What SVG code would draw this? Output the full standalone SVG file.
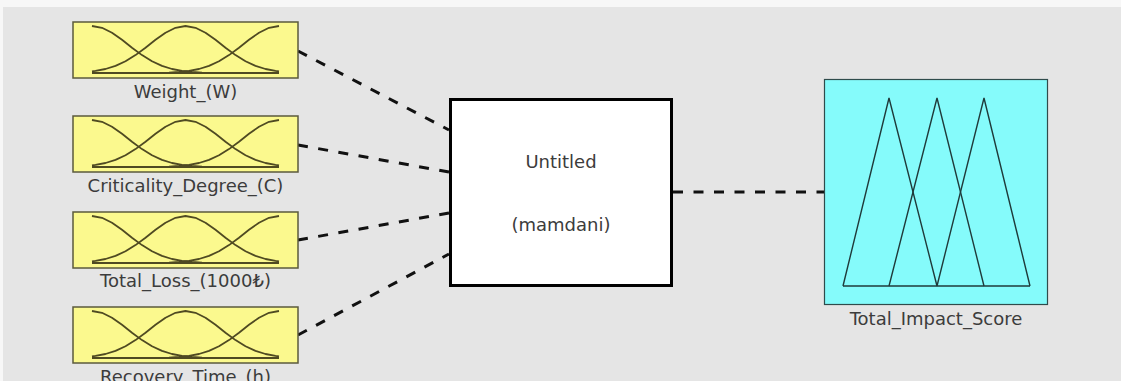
<svg xmlns="http://www.w3.org/2000/svg" width="1121" height="381" viewBox="0 0 1121 381">
<style>
.bg{fill:#e5e5e5}
.inbox{fill:#fbf98e;stroke:#5b5a3c;stroke-width:1.5}
.mf{fill:none;stroke:#4f4a22;stroke-width:1.8;stroke-linejoin:round}
.base{fill:none;stroke:#4f4a22;stroke-width:2.2}
.lbl{font-family:"DejaVu Sans",Verdana,sans-serif;font-size:18px;fill:#3c3c3c;text-anchor:middle}
.conn{fill:none;stroke:#111;stroke-width:3;stroke-dasharray:10 10.5}
.core{fill:#fff;stroke:#000;stroke-width:3}
.outbox{fill:#85fbfb;stroke:#2f4b4b;stroke-width:1.2}
.tri{fill:none;stroke:#1f3a3a;stroke-width:1.4;stroke-linejoin:miter}
</style>
<defs>
<g id="mfs">
<rect class="inbox" x="0" y="0" width="225" height="56"/>
<polyline class="mf" points="19,4 29,5.8 39,10.7 49,17.8 59,25.7 69,33.1 79,39.3 89,43.9 99,47 109,48.9 119,50 129,50.6 139,50.8 159,51 206,51"/>
<polyline class="mf" points="206,4 196,5.8 186,10.7 176,17.8 166,25.7 156,33.1 146,39.3 136,43.9 126,47 116,48.9 106,50 96,50.6 86,50.8 66,51 19,51"/>
<polyline class="mf" points="19,49.4 22.5,48.9 32.5,47 42.5,43.9 52.5,39.3 62.5,33.1 72.5,25.7 82.5,17.8 92.5,10.7 102.5,5.8 112.5,4 122.5,5.8 132.5,10.7 142.5,17.8 152.5,25.7 162.5,33.1 172.5,39.3 182.5,43.9 192.5,47 202.5,48.9 206,49.4"/>
<line class="base" x1="19" y1="51" x2="206" y2="51"/>
</g>
</defs>
<rect x="0" y="0" width="1121" height="381" fill="#f7f7f7"/>
<rect class="bg" x="3" y="7" width="1118" height="374"/>

<g id="connectors">
<line class="conn" x1="298" y1="51" x2="449" y2="130"/>
<line class="conn" x1="298" y1="145" x2="449" y2="172"/>
<line class="conn" x1="298" y1="240" x2="449" y2="213"/>
<line class="conn" x1="298" y1="335" x2="449" y2="254"/>
<line class="conn" x1="673" y1="192" x2="824" y2="192"/>
</g>

<g id="input-weight">
<use href="#mfs" x="73" y="22"/>
<text class="lbl" x="185.5" y="98">Weight_(W)</text>
</g>
<g id="input-criticality">
<use href="#mfs" x="73" y="116"/>
<text class="lbl" x="185.5" y="192">Criticality_Degree_(C)</text>
</g>
<g id="input-loss">
<use href="#mfs" x="73" y="212"/>
<text class="lbl" x="185.5" y="287">Total_Loss_(1000₺)</text>
</g>
<g id="input-recovery">
<use href="#mfs" x="73" y="307"/>
<text class="lbl" x="185.5" y="383">Recovery_Time_(h)</text>
</g>

<g id="system">
<rect class="core" x="450.5" y="99.5" width="221" height="186"/>
<text class="lbl" x="561" y="168">Untitled</text>
<text class="lbl" x="561" y="231">(mamdani)</text>
</g>

<g id="output-score">
<rect class="outbox" x="824.5" y="79.5" width="223" height="225"/>
<polyline class="tri" points="843,286 889,98 937,286"/>
<polyline class="tri" points="889,286 937,98 984,286"/>
<polyline class="tri" points="937,286 984,98 1030,286"/>
<line class="tri" x1="843" y1="286" x2="1030" y2="286"/>
<text class="lbl" x="936" y="325">Total_Impact_Score</text>
</g>
</svg>
